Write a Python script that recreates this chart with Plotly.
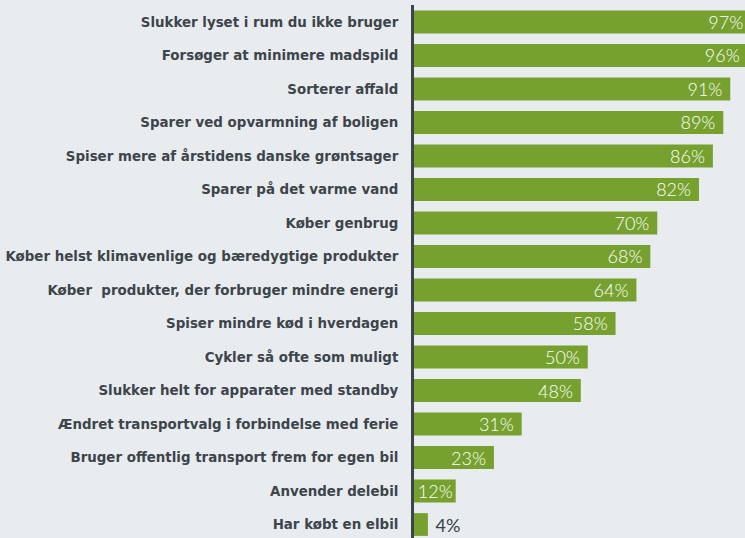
import plotly.graph_objects as go

# Survey answers, top to bottom as in the chart
actions = [
    "Slukker lyset i rum du ikke bruger",
    "Forsøger at minimere madspild",
    "Sorterer affald",
    "Sparer ved opvarmning af boligen",
    "Spiser mere af årstidens danske grøntsager",
    "Sparer på det varme vand",
    "Køber genbrug",
    "Køber helst klimavenlige og bæredygtige produkter",
    "Køber  produkter, der forbruger mindre energi",
    "Spiser mindre kød i hverdagen",
    "Cykler så ofte som muligt",
    "Slukker helt for apparater med standby",
    "Ændret transportvalg i forbindelse med ferie",
    "Bruger offentlig transport frem for egen bil",
    "Anvender delebil",
    "Har købt en elbil",
]
shares = [97, 96, 91, 89, 86, 82, 70, 68, 64, 58, 50, 48, 31, 23, 12, 4]

GREEN = "#76a12f"
BG = "#e8ecef"
DARK = "#3d444b"

# small bars get their label outside, the rest inside (padded a bit)
positions = ["inside" if v >= 10 else "outside" for v in shares]
labels = []
for v, p in zip(shares, positions):
    if p == "outside":
        labels.append("\u00a0" + f"{v}%")
    elif v >= 20:
        labels.append(f"{v}%" + "\u00a0")
    else:
        labels.append(f"{v}%")

fig = go.Figure(go.Bar(
    x=shares,
    y=actions,
    orientation="h",
    marker=dict(color=GREEN, line=dict(width=0)),
    text=labels,
    textposition=positions,
    insidetextanchor="end",
    constraintext="none",
    insidetextfont=dict(family="Lato", size=18, color="white", weight=300),
    outsidetextfont=dict(family="Lato", size=18, color="#3a4147", weight=400),
    hoverinfo="skip",
))

# the original picture is cropped on the right, so the figure is a bit
# wider than the window and the overflow is hidden
fig.update_layout(
    width=765,
    height=538,
    margin=dict(l=414, r=0, t=5, b=0),
    paper_bgcolor=BG,
    plot_bgcolor=BG,
    bargap=0.32,
    showlegend=False,
    xaxis=dict(range=[0, 101.0], visible=False),
    yaxis=dict(
        range=[15.403, -0.507],
        showline=True,
        linecolor=DARK,
        linewidth=3,
        showgrid=False,
        zeroline=False,
        ticks="",
        ticklabelstandoff=10,
        tickfont=dict(family="DejaVu Sans", size=13.4, color=DARK, weight="bold"),
    ),
)

fig.write_html(
    "out.html",
    config={"displayModeBar": False},
    post_script="document.body.style.margin='0';"
                "document.body.style.overflow='hidden';"
                "document.documentElement.style.overflow='hidden';",
)
